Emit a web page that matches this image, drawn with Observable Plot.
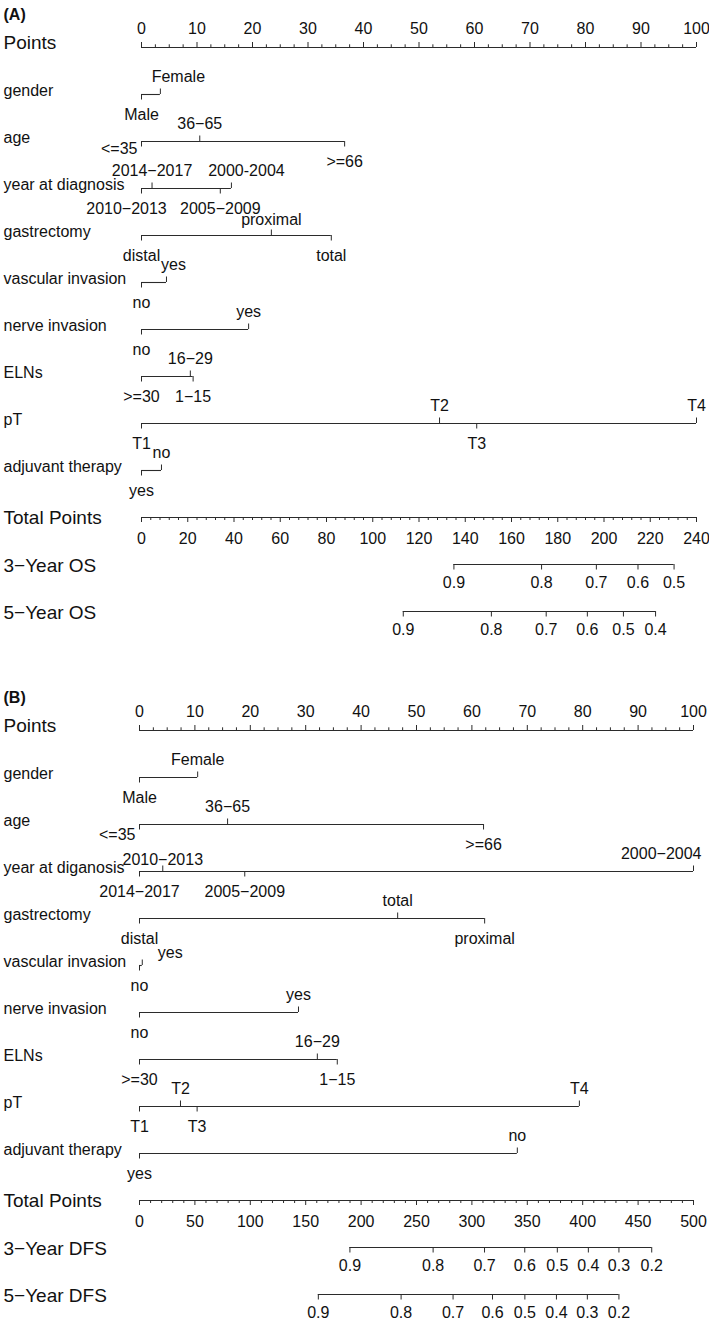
<!DOCTYPE html>
<html>
<head>
<meta charset="utf-8">
<script src="https://cdn.jsdelivr.net/npm/d3@7"></script>
<script src="https://cdn.jsdelivr.net/npm/@observablehq/plot@0.6"></script>
<style>
  body { margin: 0; background: #fff; }
  #chart { width: 709px; }
  #chart svg { display: block; }
</style>
</head>
<body>
<div id="chart"></div>
<script>
// ---------- DATA ----------
const pointsTicks = [0, 10, 20, 30, 40, 50, 60, 70, 80, 90, 100];

// Panel A (OS)
const variablesA = ["gender", "age", "year at diagnosis", "gastrectomy", "vascular invasion",
  "nerve invasion", "ELNs", "pT", "adjuvant therapy"];
const levelsA = [
  ["Male", "Female"],
  ["<=35", "36\u221265", ">=66"],
  ["2010\u22122013", "2014\u22122017", "2005\u22122009", "2000-2004"],
  ["distal", "proximal", "total"],
  ["no", "yes"],
  ["no", "yes"],
  [">=30", "16\u221229", "1\u221215"],
  ["T1", "T2", "T3", "T4"],
  ["yes", "no"]
];
const pointsA = [
  [0, 3.4],
  [0, 10.5, 36.6],
  [0, 1.9, 14.2, 16.2],
  [0, 23.4, 34.2],
  [0, 4.5],
  [0, 19.3],
  [0, 8.8, 9.3],
  [0, 53.7, 60.4, 100],
  [0, 3.6]
];
const totalTicksA = [0, 20, 40, 60, 80, 100, 120, 140, 160, 180, 200, 220, 240];
const survNamesA = ["3\u2212Year OS", "5\u2212Year OS"];
const surv3LabelsA = ["0.9", "0.8", "0.7", "0.6", "0.5"];
const surv3TotalA = [135.1, 173.0, 196.7, 214.7, 230.3];
const surv5LabelsA = ["0.9", "0.8", "0.7", "0.6", "0.5", "0.4"];
const surv5TotalA = [113.2, 151.3, 175.0, 192.8, 208.4, 222.3];

// Panel B (DFS)
const variablesB = ["gender", "age", "year at diganosis", "gastrectomy", "vascular invasion",
  "nerve invasion", "ELNs", "pT", "adjuvant therapy"];
const levelsB = [
  ["Male", "Female"],
  ["<=35", "36\u221265", ">=66"],
  ["2014\u22122017", "2010\u22122013", "2005\u22122009", "2000\u22122004"],
  ["distal", "total", "proximal"],
  ["no", "yes"],
  ["no", "yes"],
  [">=30", "16\u221229", "1\u221215"],
  ["T1", "T2", "T3", "T4"],
  ["yes", "no"]
];
const pointsB = [
  [0, 10.5],
  [0, 15.9, 62.1],
  [0, 4.2, 19.0, 100],
  [0, 46.6, 62.3],
  [0, 0.5],
  [0, 28.7],
  [0, 32.1, 35.7],
  [0, 7.4, 10.4, 79.4],
  [0, 68.2]
];
const totalTicksB = [0, 50, 100, 150, 200, 250, 300, 350, 400, 450, 500];
const survNamesB = ["3\u2212Year DFS", "5\u2212Year DFS"];
const surv3LabelsB = ["0.9", "0.8", "0.7", "0.6", "0.5", "0.4", "0.3", "0.2"];
const surv3TotalB = [189.9, 265.0, 311.4, 347.7, 377.1, 405.1, 432.7, 462.3];
const surv5LabelsB = ["0.9", "0.8", "0.7", "0.6", "0.5", "0.4", "0.3", "0.2"];
const surv5TotalB = [161.4, 236.1, 283.0, 318.6, 347.8, 376.3, 404.2, 432.7];

// ---------- LAYOUT ----------
const FONT = "'Liberation Sans', Arial, Helvetica, sans-serif";
const INK = "#111";
const LINE = "#2b2b2b";

const panels = [
  {
    tag: "(A)", height: 683, xRange: [141, 696],
    variables: variablesA, levels: levelsA, points: pointsA,
    totalTicks: totalTicksA, totalMinor: 4,
    survNames: survNamesA,
    surv: [[surv3LabelsA, surv3TotalA], [surv5LabelsA, surv5TotalA]],
    nudges: {
      "gender|Female": {dx: 18},
      "age|<=35": {anchor: "end", dx: -4, dy: -13},
      "year at diagnosis|2000-2004": {dx: 15},
      "year at diagnosis|2010\u22122013": {dx: -15},
      "gastrectomy|proximal": {dy: 2},
      "vascular invasion|yes": {dx: 7}
    }
  },
  {
    tag: "(B)", height: 636, xRange: [139, 693],
    variables: variablesB, levels: levelsB, points: pointsB,
    totalTicks: totalTicksB, totalMinor: 10,
    survNames: survNamesB,
    surv: [[surv3LabelsB, surv3TotalB], [surv5LabelsB, surv5TotalB]],
    nudges: {
      "age|<=35": {anchor: "end", dx: -4, dy: -10},
      "year at diganosis|2010\u22122013": {dy: 6},
      "year at diganosis|2000\u22122004": {anchor: "end", dx: 8},
      "vascular invasion|yes": {dx: 28, dy: 5}
    }
  }
];

function buildPanel(p) {
  const [X0, X1] = p.xRange;
  const pxPt = (X1 - X0) / 100;
  const pxRow = (611 - 47) / 12;
  const totalMax = p.totalTicks[p.totalTicks.length - 1];
  const tp = v => v * 100 / totalMax;
  const offRow = px => px / pxRow;

  const rows = p.variables.map((name, i) => ({
    name, row: i + 1,
    x1: d3.min(p.points[i]), x2: d3.max(p.points[i])
  }));
  const levels = [];
  p.variables.forEach((name, i) => {
    const pts = p.points[i], labs = p.levels[i];
    const order = d3.range(pts.length).sort((a, b) => pts[a] - pts[b]);
    order.forEach((k, j) => {
      const dir = j % 2 === 0 ? 1 : -1; // 1: label below, tick down; -1: above, tick up
      const nd = p.nudges[name + "|" + labs[k]] || {};
      levels.push({
        name, row: i + 1, label: labs[k], pts: pts[k], dir,
        dx: nd.dx || 0, dy: nd.dy || 0, anchor: nd.anchor || "middle"
      });
    });
  });

  const pMinor = d3.range(0, 100.01, 2.5).filter(v => v % 10 !== 0);
  const tStep = p.totalTicks[1] - p.totalTicks[0];
  const tMinor = d3.range(0, totalMax + 0.01, p.totalMinor).filter(v => v % tStep !== 0);

  const survRows = p.surv.map(([labs, tots], i) => ({
    name: p.survNames[i], row: 11 + i,
    x1: tp(d3.min(tots)), x2: tp(d3.max(tots))
  }));
  const survTicks = [];
  p.surv.forEach(([labs, tots], i) => {
    labs.forEach((l, k) => survTicks.push({row: 11 + i, label: l, x: tp(tots[k])}));
  });

  const lblY = d => d.row + offRow((d.dir > 0 ? 20 : -18) + d.dy);
  const lblX = d => d.pts + d.dx / pxPt;

  return Plot.plot({
    width: 709,
    height: p.height,
    margin: 0,
    x: {domain: [0, 100], range: [X0, X1], axis: null},
    y: {domain: [0, 12], range: [47, 611], axis: null},
    style: {fontFamily: FONT, color: INK, background: "#fff", overflow: "visible"},
    marks: [
      Plot.text([p.tag], {frameAnchor: "top-left", dx: 3, dy: 14, text: d => d,
        fontSize: 16, fontWeight: "bold", textAnchor: "start", lineAnchor: "middle", fill: INK}),

      // Points axis
      Plot.text(["Points"], {frameAnchor: "left", y: 0, dx: 3, dy: -5, text: d => d,
        fontSize: 19, textAnchor: "start", lineAnchor: "middle", fill: INK}),
      Plot.ruleY([0], {y: d => d, x1: 0, x2: 100, stroke: LINE, strokeWidth: 1.1}),
      Plot.ruleX(pointsTicks, {x: d => d, y1: 0, y2: offRow(-5), stroke: LINE, strokeWidth: 1}),
      Plot.ruleX(pMinor, {x: d => d, y1: 0, y2: offRow(-2.7), stroke: LINE, strokeWidth: 1}),
      Plot.text(pointsTicks, {x: d => d, y: 0, dy: -19, text: d => String(d),
        fontSize: 16, textAnchor: "middle", lineAnchor: "middle", fill: INK}),

      // variable rows
      Plot.text(rows, {frameAnchor: "left", y: "row", dx: 3, dy: -4, text: "name",
        fontSize: 16, textAnchor: "start", lineAnchor: "middle", fill: INK}),
      Plot.ruleY(rows, {y: "row", x1: "x1", x2: "x2", stroke: LINE, strokeWidth: 1.1}),
      Plot.ruleX(levels, {x: "pts", y1: "row", y2: d => d.row + offRow(d.dir * 5.5), stroke: LINE, strokeWidth: 1}),
      Plot.text(levels.filter(d => d.anchor === "middle"), {x: lblX, y: lblY, text: "label",
        fontSize: 16, textAnchor: "middle", lineAnchor: "middle", fill: INK}),
      Plot.text(levels.filter(d => d.anchor === "end"), {x: lblX, y: lblY, text: "label",
        fontSize: 16, textAnchor: "end", lineAnchor: "middle", fill: INK}),

      // Total Points axis
      Plot.text(["Total Points"], {frameAnchor: "left", y: 10, dx: 3, dy: 0, text: d => d,
        fontSize: 19, textAnchor: "start", lineAnchor: "middle", fill: INK}),
      Plot.ruleY([10], {y: d => d, x1: 0, x2: 100, stroke: LINE, strokeWidth: 1.1}),
      Plot.ruleX(p.totalTicks, {x: d => tp(d), y1: 10, y2: 10 + offRow(5), stroke: LINE, strokeWidth: 1}),
      Plot.ruleX(tMinor, {x: d => tp(d), y1: 10, y2: 10 + offRow(3), stroke: LINE, strokeWidth: 1}),
      Plot.text(p.totalTicks, {x: d => tp(d), y: 10, dy: 21, text: d => String(d),
        fontSize: 16, textAnchor: "middle", lineAnchor: "middle", fill: INK}),

      // survival axes
      Plot.text(survRows, {frameAnchor: "left", y: "row", dx: 3, dy: 1, text: "name",
        fontSize: 19, textAnchor: "start", lineAnchor: "middle", fill: INK}),
      Plot.ruleY(survRows, {y: "row", x1: "x1", x2: "x2", stroke: LINE, strokeWidth: 1.1}),
      Plot.ruleX(survTicks, {x: "x", y1: "row", y2: d => d.row + offRow(5.5), stroke: LINE, strokeWidth: 1}),
      Plot.text(survTicks, {x: "x", y: "row", dy: 18, text: "label",
        fontSize: 16, textAnchor: "middle", lineAnchor: "middle", fill: INK})
    ]
  });
}

const chart = document.getElementById("chart");
panels.forEach(p => chart.appendChild(buildPanel(p)));
</script>
</body>
</html>
